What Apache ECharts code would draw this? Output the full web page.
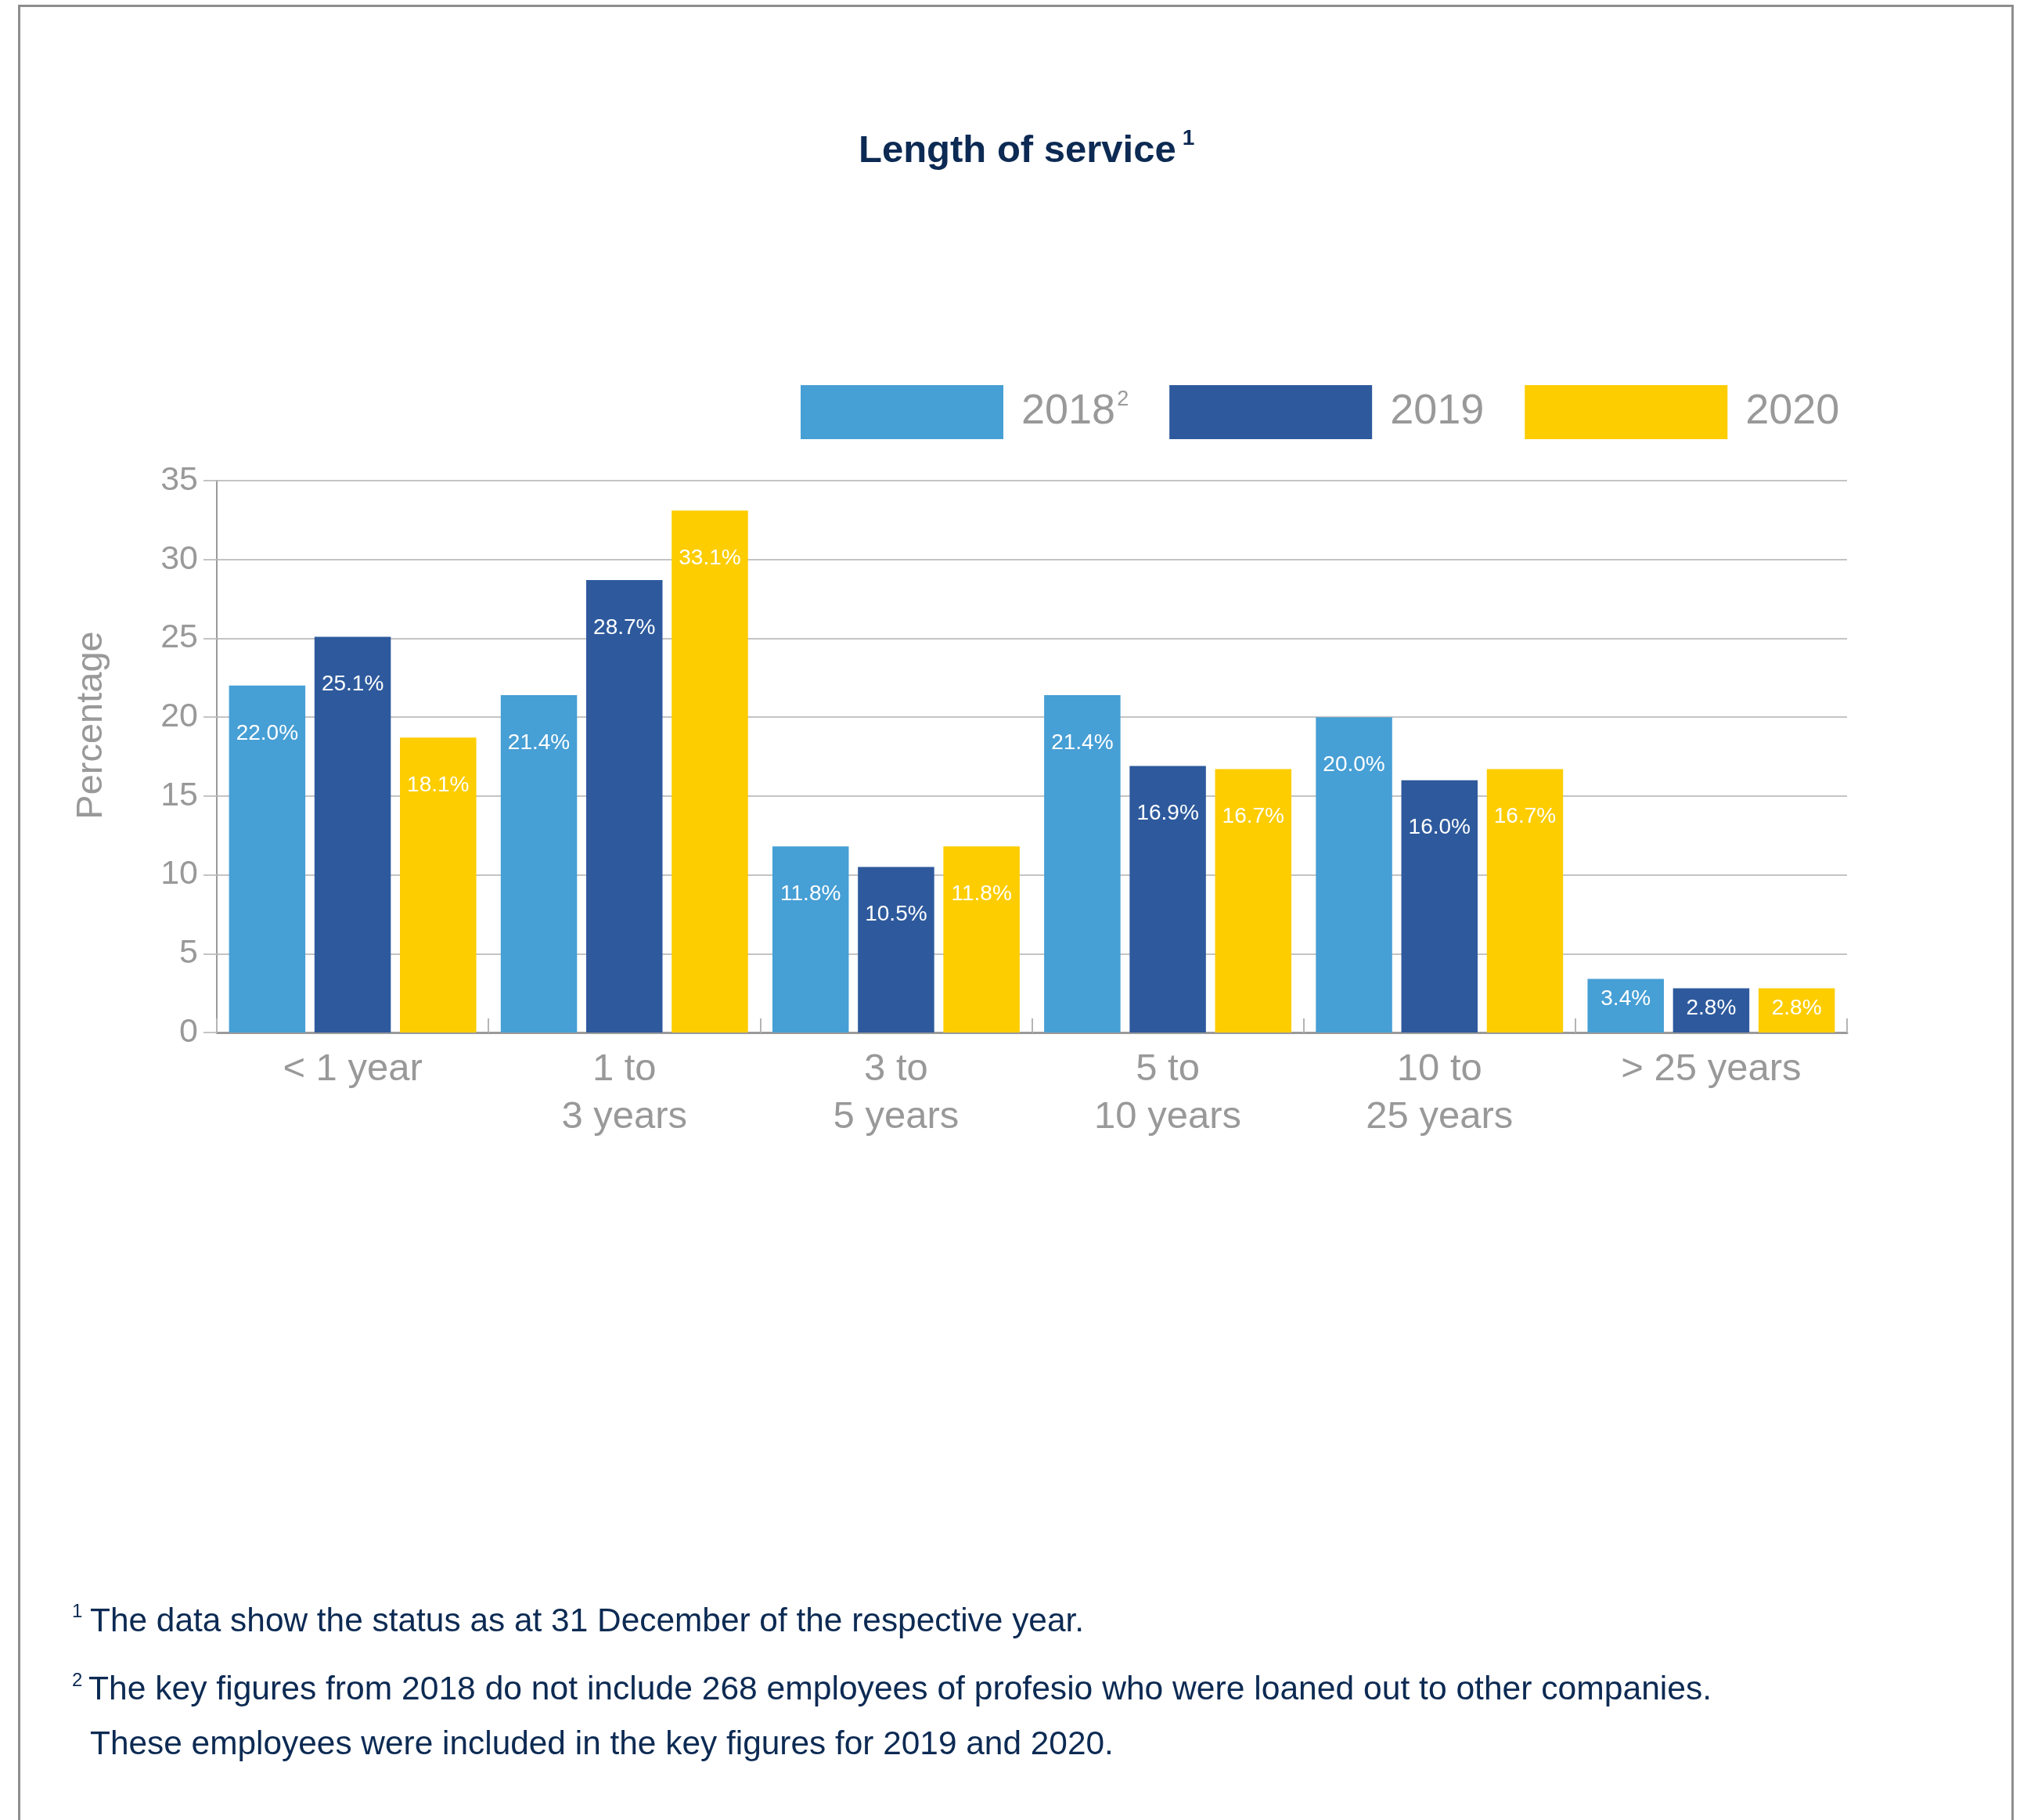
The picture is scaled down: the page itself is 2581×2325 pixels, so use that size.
<!DOCTYPE html>
<html>
<head>
<meta charset="utf-8">
<script src="https://cdn.jsdelivr.net/npm/echarts@6/dist/echarts.min.js"></script>
<style>
  html, body { margin: 0; padding: 0; background: #fff; }
  #chart { width: 2581px; height: 2325px; position: absolute; left: 0; top: 0; }
  #frame { position: absolute; left: 23px; top: 6px; width: 2544px; height: 2330px;
           border: 3px solid #8e8e8e; border-bottom: none; pointer-events: none; }
</style>
</head>
<body>
<div id="chart"></div>
<div id="frame"></div>
<script>
const categories = ['< 1 year', '1 to\n3 years', '3 to\n5 years', '5 to\n10 years', '10 to\n25 years', '> 25 years'];
const seriesNames = ['2018', '2019', '2020'];
const values2018 = [22.0, 21.4, 11.8, 21.4, 20.0, 3.4];
const values2019 = [25.1, 28.7, 10.5, 16.9, 16.0, 2.8];
const values2020 = [18.7, 33.1, 11.8, 16.7, 16.7, 2.8];
const labels2018 = ['22.0%', '21.4%', '11.8%', '21.4%', '20.0%', '3.4%'];
const labels2019 = ['25.1%', '28.7%', '10.5%', '16.9%', '16.0%', '2.8%'];
const labels2020 = ['18.1%', '33.1%', '11.8%', '16.7%', '16.7%', '2.8%'];
const yTicks = { min: 0, max: 35, interval: 5 };

const colors = ['#469fd5', '#2e5a9d', '#fdcd00'];
const grey = '#999999';
const navy = '#0c2a53';
const font = '"Liberation Sans", Arial, sans-serif';

function makeData(values, labels) {
  return values.map((v, i) => ({
    value: v,
    label: {
      formatter: labels[i],
      distance: v < 5 ? 12 : 47
    }
  }));
}

const allValues = [values2018, values2019, values2020];
const allLabels = [labels2018, labels2019, labels2020];

const chart = echarts.init(document.getElementById('chart'), null, { renderer: 'canvas' });

const option = {
  backgroundColor: '#ffffff',
  animation: false,
  title: {
    text: '{t|Length of service}{s|1}',
    left: 1092,
    top: 158,
    textStyle: {
      rich: {
        t: { fontFamily: font, fontWeight: 'bold', fontSize: 49, color: navy, lineHeight: 60 },
        s: { fontFamily: font, fontWeight: 'bold', fontSize: 28, color: navy, lineHeight: 28, padding: [0, 0, 32, 8] }
      }
    }
  },
  legend: {
    top: 487,
    left: 1018,
    itemWidth: 259,
    itemHeight: 69,
    itemGap: 52,
    icon: 'rect',
    data: seriesNames,
    formatter: function (name) {
      return name === '2018' ? '{a|2018}{s|2}' : '{a|' + name + '}';
    },
    textStyle: {
      padding: [0, 0, 0, 18],
      rich: {
        a: { fontFamily: font, fontSize: 54, color: grey, lineHeight: 62 },
        s: { fontFamily: font, fontSize: 27, color: grey, lineHeight: 27, padding: [0, 0, 32, 2] }
      }
    }
  },
  grid: {
    left: 277,
    right: 221,
    top: 614,
    bottom: 1006,
    containLabel: false
  },
  xAxis: {
    type: 'category',
    data: categories,
    axisLine: { show: true, lineStyle: { color: '#9a9a9a', width: 3 } },
    axisTick: { show: true, inside: true, length: 18, lineStyle: { color: '#b5b5b5', width: 2 } },
    axisLabel: {
      margin: 17,
      color: grey,
      fontFamily: font,
      fontSize: 49,
      lineHeight: 61,
      interval: 0
    },
    splitLine: { show: false }
  },
  yAxis: {
    type: 'value',
    min: yTicks.min,
    max: yTicks.max,
    interval: yTicks.interval,
    name: 'Percentage',
    nameLocation: 'middle',
    nameGap: 136,
    nameTextStyle: {
      fontFamily: font,
      fontSize: 47,
      color: grey,
      padding: [0, 0, 0, 80]
    },
    axisLine: { show: true, lineStyle: { color: '#9a9a9a', width: 2 } },
    axisTick: { show: true, inside: false, length: 17, lineStyle: { color: '#c4c4c4', width: 2 } },
    axisLabel: {
      margin: 24,
      color: grey,
      fontFamily: font,
      fontSize: 43
    },
    splitLine: { show: true, lineStyle: { color: '#c4c4c4', width: 2 } }
  },
  series: seriesNames.map((name, k) => ({
    name: name,
    type: 'bar',
    barGap: '12%',
    barCategoryGap: '9%',
    itemStyle: { color: colors[k] },
    label: {
      show: true,
      position: 'insideTop',
      color: '#ffffff',
      fontFamily: font,
      fontSize: 28
    },
    data: makeData(allValues[k], allLabels[k])
  })),
  graphic: [
    { type: 'text', left: 92, top: 2047, style: { text: '1', font: '24px ' + font, fill: navy } },
    { type: 'text', left: 115, top: 2051, style: { text: 'The data show the status as at 31 December of the respective year.', font: '42.4px ' + font, fill: navy } },
    { type: 'text', left: 92, top: 2135, style: { text: '2', font: '24px ' + font, fill: navy } },
    { type: 'text', left: 113, top: 2138, style: { text: 'The key figures from 2018 do not include 268 employees of profesio who were loaned out to other companies.', font: '42.6px ' + font, fill: navy } },
    { type: 'text', left: 115, top: 2208, style: { text: 'These employees were included in the key figures for 2019 and 2020.', font: '42.4px ' + font, fill: navy } }
  ]
};

chart.setOption(option);
</script>
</body>
</html>
